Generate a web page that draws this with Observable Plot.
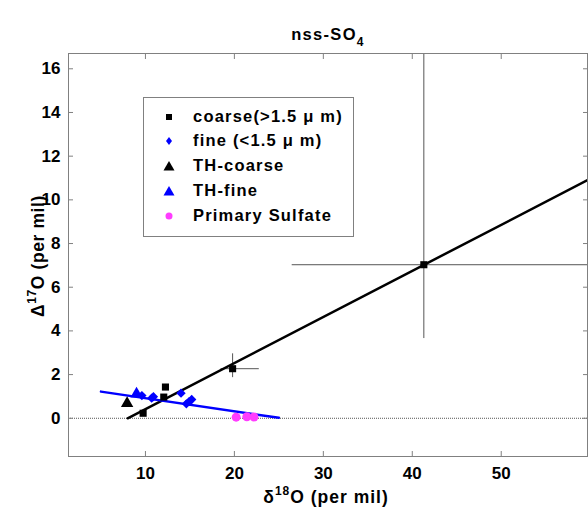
<!DOCTYPE html>
<html><head><meta charset="utf-8">
<script src="https://cdn.jsdelivr.net/npm/d3@7"></script>
<script src="https://cdn.jsdelivr.net/npm/@observablehq/plot@0.6"></script>
<style>
body{margin:0;background:#fff;}
#chart{position:relative;width:588px;height:508px;font-family:"Liberation Sans",Arial,sans-serif;}
#legend{position:absolute;left:143px;top:97px;width:211px;height:140px;border:1px solid #808080;background:#fff;box-sizing:border-box;}
.row{position:absolute;left:0;height:20px;font-size:16.5px;letter-spacing:1.2px;font-weight:bold;color:#000;white-space:nowrap;}
.row svg{position:absolute;left:18px;top:2px;}
.row span{position:absolute;left:49px;top:-1px;}
</style></head><body>
<div id="chart"></div>
<script>
// ---- data ----
const xTicks = [10, 20, 30, 40, 50];
const yTicks = [0, 2, 4, 6, 8, 10, 12, 14, 16];

const coarseX = [9.74, 12.06, 12.25, 19.8, 41.3];
const coarseY = [0.23, 0.97, 1.43, 2.27, 7.03];
// error bars for coarse points (x extent and y extent)
const errPtX = [19.8, 41.3];
const errPtY = [2.27, 7.03];
const errX1 = [18.5, 26.5];
const errX2 = [22.8, 62];
const errY1 = [1.86, 3.65];
const errY2 = [2.95, 18];

const fineX = [9.6, 10.7, 10.9, 14.0, 14.6, 14.9, 15.2];
const fineY = [1.04, 0.92, 0.99, 1.15, 0.66, 0.76, 0.86];

const thCoarseX = [7.94];
const thCoarseY = [0.68];
const thFineX = [9.0];
const thFineY = [1.12];

const primaryX = [20.2, 21.4, 22.2];
const primaryY = [0.05, 0.07, 0.06];

const coarseLineX = [8, 59.7];
const coarseLineY = [0, 10.9];
const fineLineX = [5, 25];
const fineLineY = [1.22, 0.02];

const legendLabels = ["coarse(>1.5 μ m)", "fine (<1.5 μ m)", "TH-coarse", "TH-fine", "Primary Sulfate"];

// ---- tables ----
const pts = (xs, ys) => xs.map((x, i) => ({x, y: ys[i]}));
const coarse = pts(coarseX, coarseY);
const fine = pts(fineX, fineY);
const thC = pts(thCoarseX, thCoarseY);
const thF = pts(thFineX, thFineY);
const prim = pts(primaryX, primaryY);
const errs = errPtX.map((x, i) => ({x, y: errPtY[i], x1: errX1[i], x2: errX2[i], y1: errY1[i], y2: errY2[i]}));
const cLine = pts(coarseLineX, coarseLineY);
const fLine = pts(fineLineX, fineLineY);

const FONT = "Liberation Sans, Arial, sans-serif";
const plot = Plot.plot({
  width: 588, height: 508,
  marginLeft: 68, marginRight: 1, marginTop: 53, marginBottom: 52,
  x: {domain: [1.35, 59.7]},
  y: {domain: [-1.75, 16.7]},
  style: {fontFamily: FONT, background: "white", color: "black"},
  marks: [
    Plot.ruleY([0], {stroke: "#555", strokeWidth: 1, strokeDasharray: "1,1"}),
    Plot.ruleY(errs, {y: "y", x1: "x1", x2: "x2", stroke: "#555", strokeWidth: 1, clip: true}),
    Plot.ruleX(errs, {x: "x", y1: "y1", y2: "y2", stroke: "#555", strokeWidth: 1, clip: true}),
    Plot.line(cLine, {x: "x", y: "y", stroke: "black", strokeWidth: 2.5, clip: true}),
    Plot.line(fLine, {x: "x", y: "y", stroke: "#0000ff", strokeWidth: 2.5, clip: true}),
    Plot.dot(prim, {x: "x", y: "y", r: 4.5, fill: "#ff3cff", stroke: "none"}),
    Plot.dot(fine, {x: "x", y: "y", symbol: "diamond2", r: 4.2, fill: "#0000ff", stroke: "none"}),
    Plot.dot(thF, {x: "x", y: "y", symbol: "triangle", r: 4.6, fill: "#0000ff", stroke: "none"}),
    Plot.dot(thC, {x: "x", y: "y", symbol: "triangle", r: 4.6, fill: "black", stroke: "none"}),
    Plot.dot(coarse, {x: "x", y: "y", symbol: "square", r: 4, fill: "black", stroke: "none"}),
    Plot.frame({stroke: "#808080"}),
    Plot.axisX({ticks: xTicks, tickSize: 0, tickPadding: 10, label: null, fontSize: 17, fontWeight: "bold"}),
    Plot.axisX({ticks: xTicks, anchor: "bottom", tickSize: -5, text: null, label: null, stroke: "#808080"}),
    Plot.axisX({ticks: xTicks, anchor: "top", tickSize: -5, text: null, label: null, stroke: "#808080"}),
    Plot.axisY({ticks: yTicks, tickSize: 0, tickPadding: 8, label: null, fontSize: 17, fontWeight: "bold"}),
    Plot.axisY({ticks: yTicks, anchor: "left", tickSize: -5, text: null, label: null, stroke: "#808080"}),
    Plot.axisY({ticks: yTicks, anchor: "right", tickSize: -5, text: null, label: null, stroke: "#808080"})
  ]
});

const chart = document.getElementById("chart");
chart.appendChild(plot);

// titles with sub/superscripts
const svg = d3.select(plot);
const t = svg.append("text").attr("x", 328).attr("y", 40).attr("text-anchor", "middle")
  .attr("font-family", FONT).attr("font-weight", "bold").attr("font-size", 16.5)
  .attr("letter-spacing", 1.3).attr("fill", "black");
t.append("tspan").text("nss-SO");
t.append("tspan").attr("font-size", 12).attr("dy", 6).text("4");

const xl = svg.append("text").attr("x", 326).attr("y", 503).attr("text-anchor", "middle")
  .attr("font-family", FONT).attr("font-weight", "bold").attr("font-size", 17.5)
  .attr("letter-spacing", 1).attr("fill", "black");
xl.append("tspan").text("δ");
xl.append("tspan").attr("font-size", 12).attr("dy", -8).text("18");
xl.append("tspan").attr("dy", 8).text("O (per mil)");

const yl = svg.append("text").attr("transform", "translate(44,256) rotate(-90)").attr("text-anchor", "middle")
  .attr("font-family", FONT).attr("font-weight", "bold").attr("font-size", 17.5)
  .attr("letter-spacing", 0.6).attr("fill", "black");
yl.append("tspan").text("Δ");
yl.append("tspan").attr("font-size", 12).attr("dy", -8).text("17");
yl.append("tspan").attr("dy", 8).text("O (per mil)");

// legend
const legend = document.createElement("div");
legend.id = "legend";
const sym = [
  '<svg width="14" height="14"><rect x="4" y="4" width="6" height="6" fill="black"/></svg>',
  '<svg width="14" height="14"><path d="M7,3 L10,7 L7,11 L4,7Z" fill="#0000ff"/></svg>',
  '<svg width="14" height="14"><path d="M7,2 L12.5,11.5 L1.5,11.5Z" fill="black"/></svg>',
  '<svg width="14" height="14"><path d="M7,2 L12.5,11.5 L1.5,11.5Z" fill="#0000ff"/></svg>',
  '<svg width="14" height="14"><circle cx="7" cy="7" r="3.5" fill="#ff3cff"/></svg>'
];
const rowTops = [10, 34, 59, 84, 109];
legendLabels.forEach((lab, i) => {
  const r = document.createElement("div");
  r.className = "row";
  r.style.top = rowTops[i] + "px";
  r.innerHTML = sym[i] + "<span></span>";
  r.querySelector("span").textContent = lab;
  legend.appendChild(r);
});
chart.appendChild(legend);
</script>
</body></html>
